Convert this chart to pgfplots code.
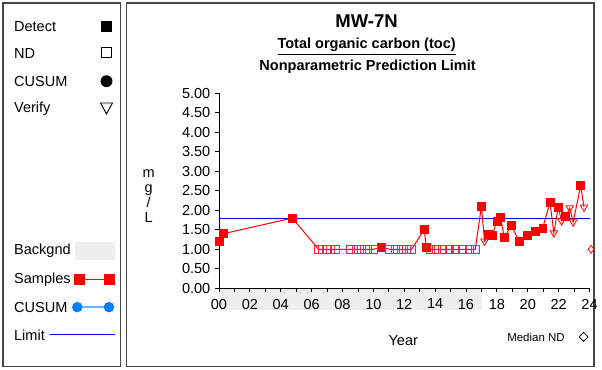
\documentclass[border=0pt]{standalone}
\usepackage{fontspec}
\setmainfont{Liberation Sans}
\usepackage{pgfplots}
\pgfplotsset{compat=1.18}
\definecolor{bandgray}{RGB}{238,238,238}
\definecolor{cusumblue}{RGB}{0,128,255}
\definecolor{cusumline}{RGB}{110,180,255}
\definecolor{framegray}{RGB}{70,70,70}
\definecolor{ndred}{RGB}{255,40,40}

\begin{document}
\begin{tikzpicture}
% decorations in pixel units (y downwards)
\begin{scope}[x=0.75pt,y=-0.75pt,yshift=279.75pt]
  \useasboundingbox (0,0) rectangle (602,373);
  \draw[framegray, line width=0.9pt] (3,3) rectangle (122,370);
  \draw[framegray, line width=0.9pt] (128,3) rectangle (599.5,370);
  % background period band
  \fill[bandgray] (221,291) rectangle (486,313);
  % left legend panel
  \begin{scope}[font=\fontsize{11}{13}\selectfont]
    \node[anchor=west, inner sep=0pt] at (14,27) {Detect};
    \node[anchor=west, inner sep=0pt] at (14,54) {ND};
    \node[anchor=west, inner sep=0pt] at (14,82) {CUSUM};
    \node[anchor=west, inner sep=0pt] at (14,110) {Verify};
    \node[anchor=west, inner sep=0pt] at (14,253) {Backgnd};
    \node[anchor=west, inner sep=0pt] at (14,282) {Samples};
    \node[anchor=west, inner sep=0pt] at (14,310) {CUSUM};
    \node[anchor=west, inner sep=0pt] at (14,338) {Limit};
  \end{scope}
  \fill[black] (102,21) rectangle (113.5,32.5);
  \draw[black, line width=0.7pt] (102.5,48) rectangle (113,58.5);
  \fill[black] (107.5,82) circle (4.5pt);
  \draw[black, line width=0.7pt] (101.5,104) -- (113.5,104) -- (107.5,115) -- cycle;
  \fill[bandgray] (76,244) rectangle (116,262);
  \draw[red, line width=0.75pt] (80,282) -- (110,282);
  \fill[red] (75,276.5) rectangle (86,287.5);
  \fill[red] (105,276.5) rectangle (116,287.5);
  \draw[cusumline, line width=1pt] (78,310) -- (110,310);
  \fill[cusumblue] (78,310) circle (4pt);
  \fill[cusumblue] (110,310) circle (4pt);
  \draw[blue, line width=0.75pt] (50,338) -- (116,338);
  % titles
  \node[font=\bfseries\fontsize{14}{16}\selectfont] at (370,21) {MW-7N};
  \node[font=\bfseries\fontsize{11}{13}\selectfont] at (370,47) {\underline{Total organic carbon (toc)}};
  \node[font=\bfseries\fontsize{11}{13}\selectfont] at (371,67) {Nonparametric Prediction Limit};
  % y label stacked
  \begin{scope}[font=\fontsize{11}{13}\selectfont]
    \node[anchor=base, inner sep=0pt] at (150,179) {m};
    \node[anchor=base, inner sep=0pt] at (150,194) {g};
    \node[anchor=base, inner sep=0pt] at (150,209) {/};
    \node[anchor=base, inner sep=0pt] at (150,225) {L};
    \node at (407,344) {Year};
  \end{scope}
  \node[font=\fontsize{8.7}{10}\selectfont] at (541,341) {Median ND};
  \draw[black, line width=0.6pt] (589,335.5) -- (593.5,340) -- (589,344.5) -- (584.5,340) -- cycle;
\end{scope}

\begin{axis}[
  at={(165.75pt,61.5pt)}, anchor=south west,
  scale only axis, width=280.5pt, height=147.75pt,
  xmin=0, xmax=24, ymin=0, ymax=5,
  axis lines*=left,
  axis line style={black, line width=0.7pt},
  xtick={0,2,...,24},
  xticklabels={00,02,04,06,08,10,12,14,16,18,20,22,24},
  minor xtick={1,3,...,23},
  ytick={0,0.5,...,5},
  yticklabel style={/pgf/number format/.cd, fixed, fixed zerofill, precision=2},
  xticklabel style={yshift=-1.5pt},
  tick align=outside,
  major tick length=3pt, minor tick length=3pt,
  tick style={black, line width=0.6pt},
  ticklabel style={font=\fontsize{11}{13}\selectfont},
  /pgf/number format/assume math mode=true,
  clip=false,
]
% limit
\addplot[blue, line width=0.8pt] coordinates {(0,1.8) (24,1.8)};
% sample line, time order
\addplot[red, line width=0.75pt, mark=none] coordinates {
(0.03,1.20) (0.3,1.40) (4.75,1.80)
(6.45,1.0) (6.72,1.0) (7.0,1.0) (7.25,1.0) (7.52,1.0)
(8.5,1.0) (8.88,1.0) (9.25,1.0) (9.62,1.0) (10.0,1.0)
(10.53,1.05)
(11.05,1.0) (11.42,1.0) (11.8,1.0) (12.15,1.0) (12.48,1.0)
(13.3,1.51) (13.42,1.04)
(13.7,1.0) (14.1,1.0) (14.5,1.0) (14.95,1.0) (15.35,1.0) (15.75,1.0) (16.2,1.0) (16.6,1.0)
(17.0,2.10) (17.2,1.21) (17.45,1.38) (17.7,1.36) (18.0,1.72) (18.23,1.82)
(18.48,1.30) (18.93,1.61) (19.45,1.20) (19.98,1.35) (20.47,1.45) (20.97,1.55)
(21.44,2.20) (21.69,1.42) (21.97,2.07) (22.19,1.73) (22.44,1.84) (22.72,2.06)
(22.94,1.70) (23.43,2.63) (23.64,2.08)
};
% detects
\addplot[red, only marks, mark=square*, mark size=3pt, mark options={draw=red, fill=red}] coordinates {
(0.03,1.20) (0.3,1.40) (4.75,1.80) (10.53,1.05) (13.3,1.51) (13.42,1.04)
(17.0,2.10) (17.45,1.38) (17.7,1.36) (18.0,1.72) (18.23,1.82)
(18.48,1.30) (18.93,1.61) (19.45,1.20) (19.98,1.35) (20.47,1.45) (20.97,1.55)
(21.44,2.20) (21.97,2.07) (22.44,1.84) (23.43,2.63)
};
% non-detects
\addplot[ndred, only marks, mark=square, mark size=3pt, mark options={draw=ndred, fill=none, line width=0.8pt}] coordinates {
(6.45,1.0) (6.72,1.0) (7.0,1.0) (7.25,1.0) (7.52,1.0)
(8.5,1.0) (8.88,1.0) (9.25,1.0) (9.62,1.0) (10.0,1.0)
(11.05,1.0) (11.42,1.0) (11.8,1.0) (12.15,1.0) (12.48,1.0)
(13.7,1.0) (14.1,1.0) (14.5,1.0) (14.95,1.0) (15.35,1.0) (15.75,1.0) (16.2,1.0) (16.6,1.0)
};
% verify samples
\addplot[red, only marks, mark=triangle, mark size=3.3pt, mark options={draw=red, fill=none, rotate=180, line width=0.6pt}] coordinates {
(17.2,1.21) (21.69,1.42) (22.19,1.73) (22.72,2.06) (22.94,1.70) (23.64,2.08)
};
% median ND
\addplot[red, only marks, mark=diamond, mark size=3pt, mark options={draw=red, fill=none, line width=0.6pt}] coordinates {(24.1,1.0)};
\end{axis}
\end{tikzpicture}
\end{document}
